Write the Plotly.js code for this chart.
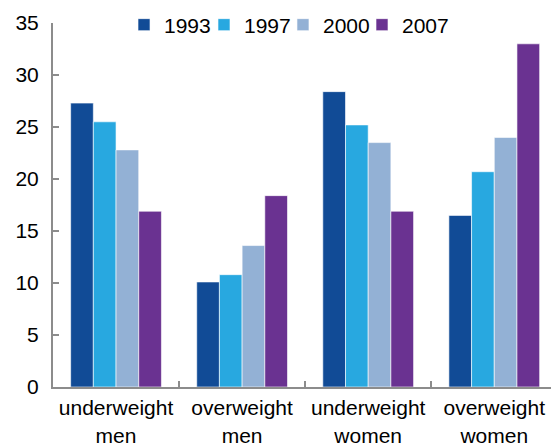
<!DOCTYPE html>
<html><head><meta charset="utf-8">
<script src="https://cdn.plot.ly/plotly-3.0.1.min.js"></script>
<style>html,body{margin:0;padding:0;background:#fff}#chart{width:551px;height:445px}</style>
</head><body><div id="chart"></div>
<script>
const categories = ["underweight<br>men", "overweight<br>men", "underweight<br>women", "overweight<br>women"];
const years = ["1993", "1997", "2000", "2007"];
const v1993 = [27.3, 10.1, 28.4, 16.5];
const v1997 = [25.5, 10.8, 25.2, 20.7];
const v2000 = [22.8, 13.6, 23.5, 24.0];
const v2007 = [16.9, 18.4, 16.9, 33.0];
const colors = ["#114B96", "#28A8E0", "#93B1D5", "#6A3291"];
const series = [v1993, v1997, v2000, v2007];
const legendIds = ["legend", "legend2", "legend3", "legend4"];
const legendX = [0.1426, 0.3032, 0.4618, 0.6205];

const data = series.map((vals, i) => ({
  type: "bar", name: years[i], x: categories, y: vals, legend: legendIds[i],
  marker: {color: colors[i], line: {color: "rgba(255,255,255,0.6)", width: 1}}
}));

const layout = {
  width: 551, height: 445,
  margin: {l: 53, r: 0, t: 23, b: 58},
  paper_bgcolor: "#fff", plot_bgcolor: "#fff",
  font: {family: "Liberation Sans, Arial, sans-serif", size: 21, color: "#000"},
  barmode: "group", bargap: 0.28, bargroupgap: 0,
  showlegend: true,
  xaxis: {range: [-0.5, 3.45], showline: true, linecolor: "#8c8c8c", linewidth: 2,
          ticks: "inside", tickson: "boundaries", ticklen: 6, tickcolor: "#8c8c8c", tickwidth: 2,
          showgrid: false, zeroline: false, ticklabelstandoff: 1},
  yaxis: {range: [0, 35], dtick: 5, showline: true, linecolor: "#8c8c8c", linewidth: 2,
          ticks: "inside", ticklen: 6, tickcolor: "#8c8c8c", tickwidth: 2,
          showgrid: false, zeroline: false, ticklabelstandoff: 8}
};
legendIds.forEach((id, i) => {
  layout[id] = {orientation: "h", x: legendX[i], xanchor: "left", y: 0.9945, yanchor: "middle",
                bgcolor: "rgba(0,0,0,0)", font: {size: 21}, itemwidth: 30};
});
Plotly.newPlot("chart", data, layout, {displayModeBar: false, staticPlot: true});
</script></body></html>
